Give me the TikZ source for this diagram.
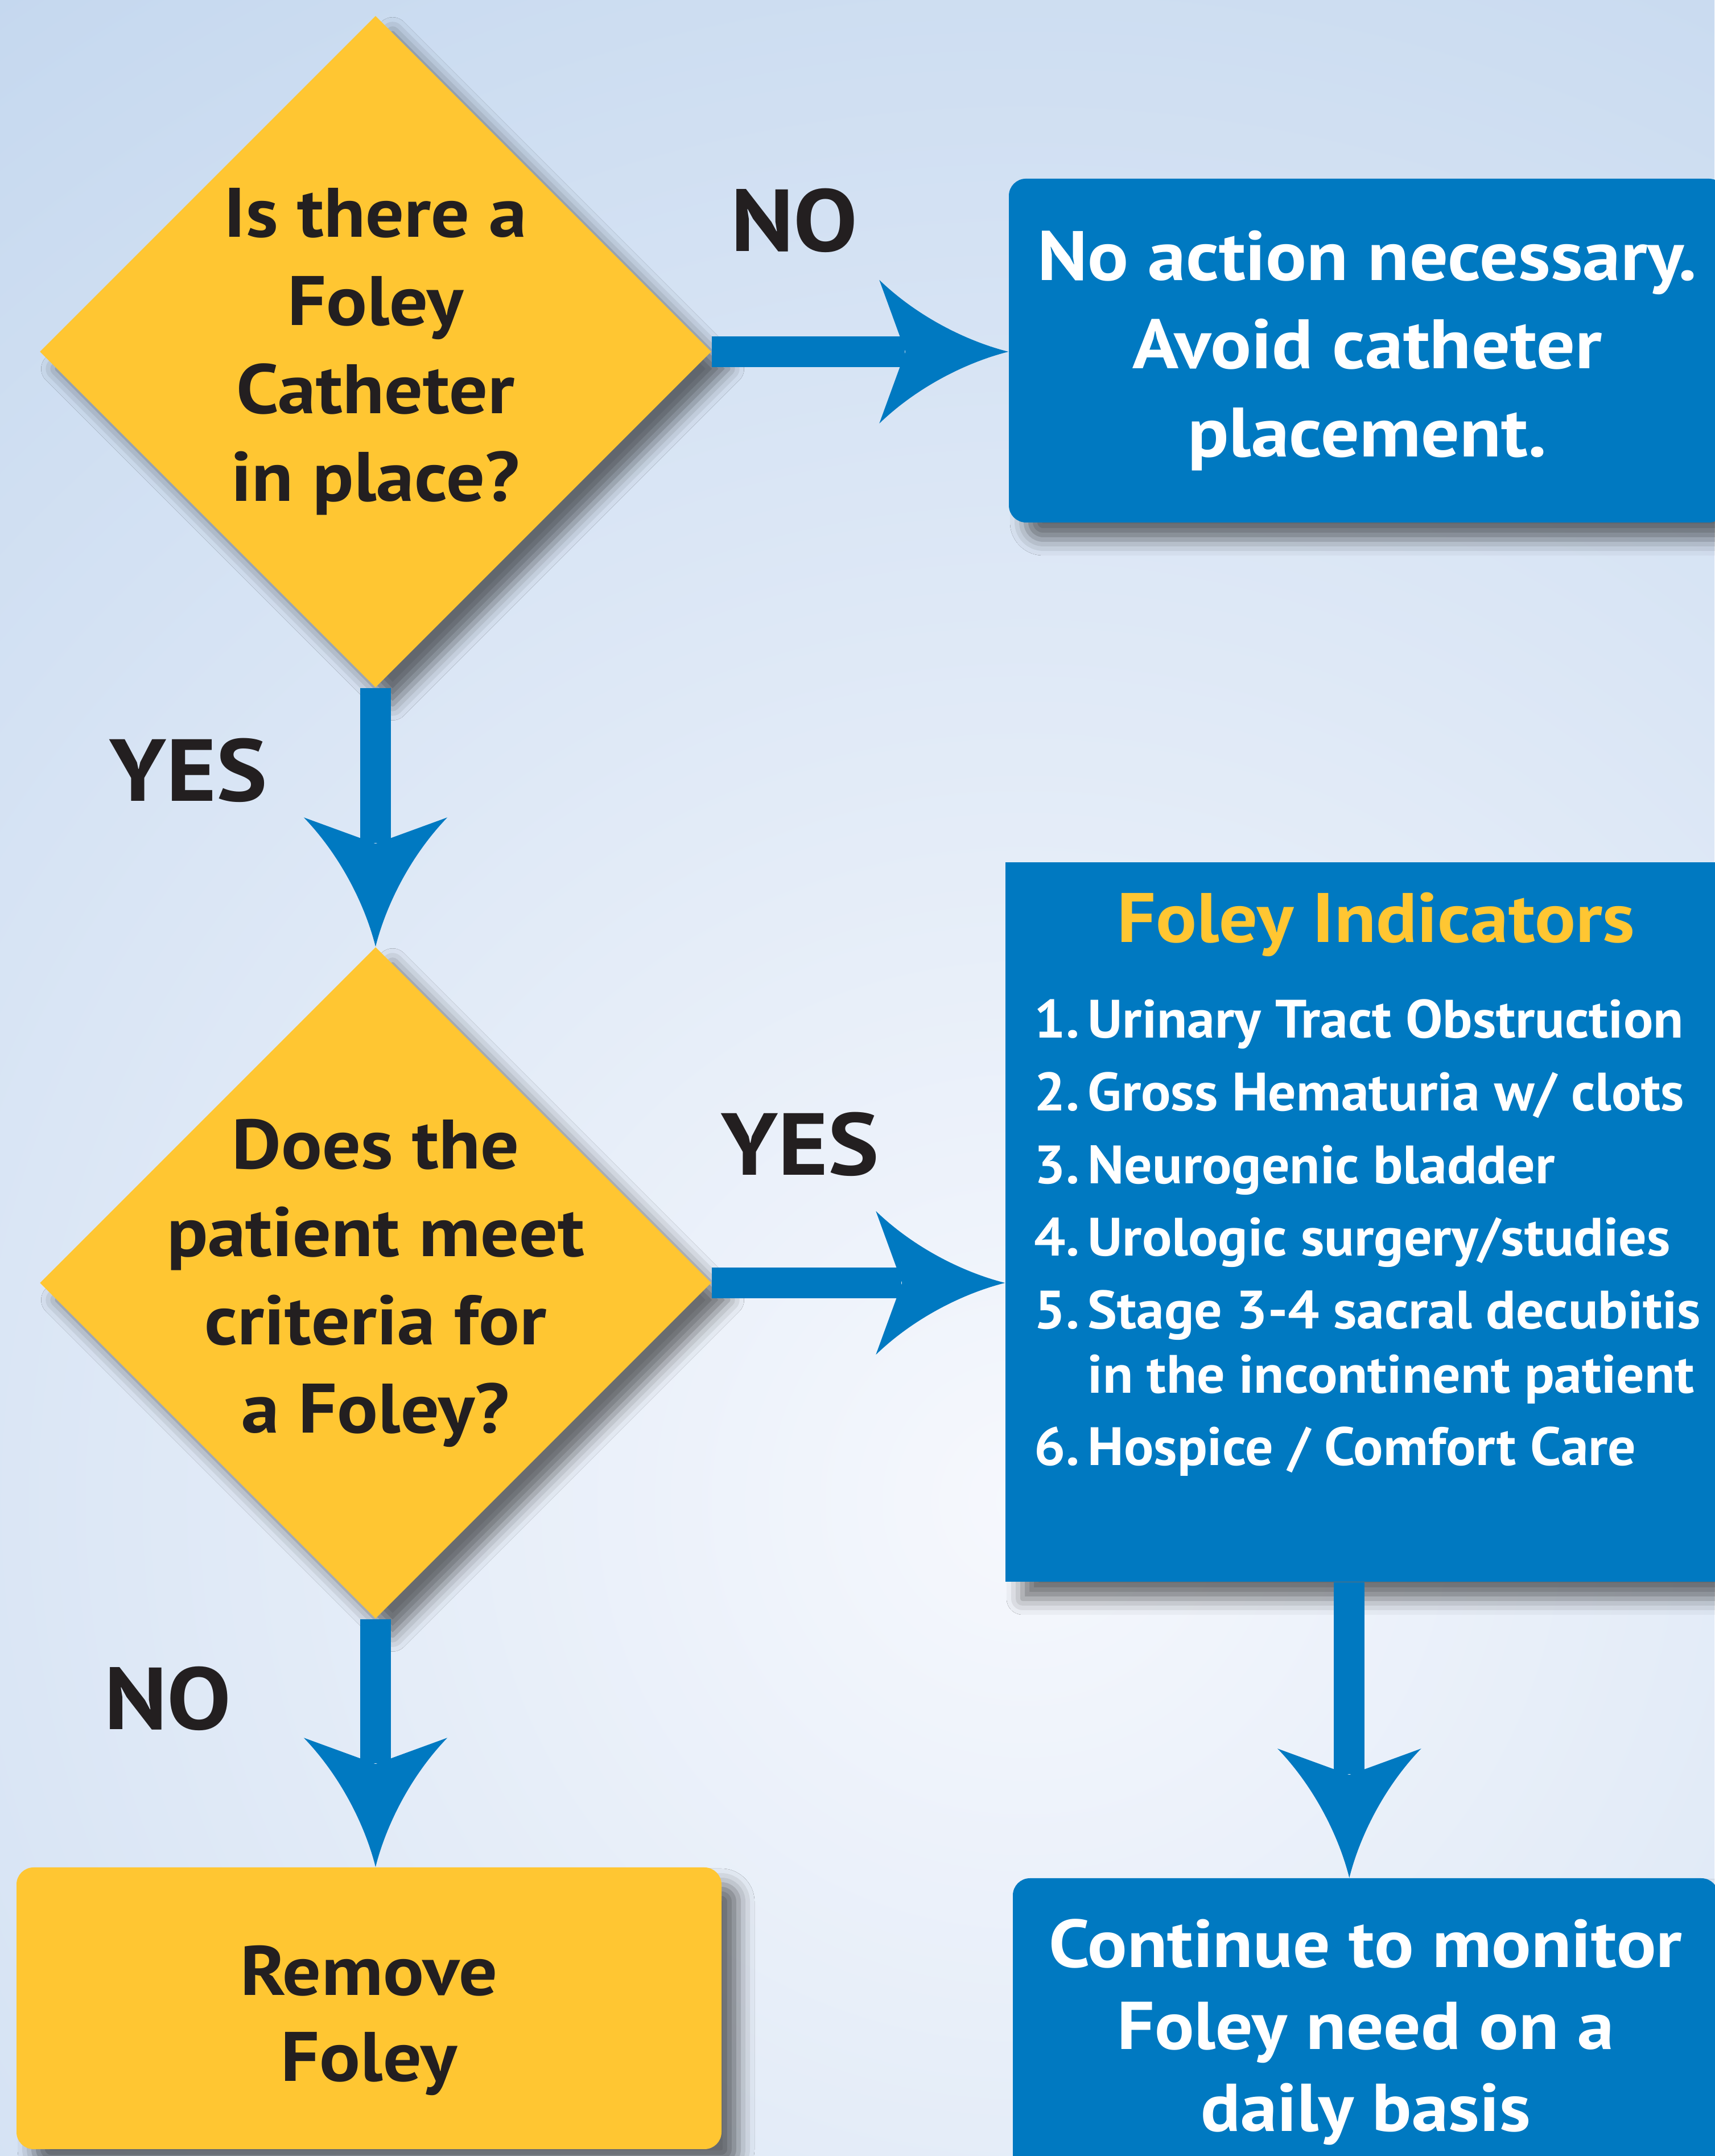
\documentclass[tikz,border=0pt]{standalone}
\usepackage{fontspec}
\setmainfont{PT Sans}[FakeStretch=1.09]
\newfontfamily\listfont{PT Sans}[FakeStretch=1.03]
\usetikzlibrary{shapes.geometric,shadows.blur,arrows.meta}

\definecolor{foleyblue}{RGB}{0,121,193}
\definecolor{foleyyellow}{RGB}{255,198,50}
\definecolor{inktext}{RGB}{35,31,32}
\definecolor{bgblue}{RGB}{194,214,238}
\definecolor{bglight}{RGB}{246,248,253}

% swept arrow head of the flow arrows
\pgfdeclarearrow{
  name=Swoop,
  setup code={
    \pgfarrowssettipend{0pt}
    \pgfarrowssetlineend{-52pt}
    \pgfarrowssetbackend{-64.6pt}
    \pgfarrowssetvisualbackend{-51.5pt}
    \pgfarrowshullpoint{0pt}{0pt}
    \pgfarrowshullpoint{-64.6pt}{35.9pt}
    \pgfarrowshullpoint{-64.6pt}{-35.9pt}
  },
  drawing code={
    \pgfpathmoveto{\pgfqpoint{0pt}{0pt}}
    \pgfpathcurveto{\pgfqpoint{-20pt}{5pt}}{\pgfqpoint{-45pt}{17pt}}{\pgfqpoint{-64.6pt}{35.9pt}}
    \pgfpathlineto{\pgfqpoint{-51.5pt}{0pt}}
    \pgfpathlineto{\pgfqpoint{-64.6pt}{-35.9pt}}
    \pgfpathcurveto{\pgfqpoint{-45pt}{-17pt}}{\pgfqpoint{-20pt}{-5pt}}{\pgfqpoint{0pt}{0pt}}
    \pgfpathclose
    \pgfusepathqfill
  }
}

\tikzset{
  softshadow/.style={blur shadow={shadow xshift=0.3cm,shadow yshift=-0.3cm,shadow blur radius=0.28cm,shadow opacity=55}},
  decision/.style={diamond,aspect=1,fill=foleyyellow,minimum width=11.8cm,minimum height=11.8cm,
    inner sep=-1cm,align=center,text=inktext,font=\bfseries\fontsize{35}{44}\selectfont,softshadow},
  bluebox/.style={rectangle,rounded corners=0.3cm,fill=foleyblue,text=white,align=center,
    font=\bfseries\fontsize{35}{44}\selectfont,softshadow},
  yellowbox/.style={rectangle,rounded corners=0.3cm,fill=foleyyellow,text=inktext,align=center,
    font=\bfseries\fontsize{35}{43}\selectfont,softshadow},
  answer/.style={text=inktext,inner sep=0pt,font=\bfseries\fontsize{44}{50}\selectfont},
  flow/.style={line width=0.54cm,color=foleyblue,-Swoop}
}

\begin{document}
\begin{tikzpicture}
	\useasboundingbox (0,0) rectangle (30.13,37.88);
	% background
	\fill[bgblue] (0,0) rectangle (30.13,37.88);
	\begin{scope}
		\clip (0,0) rectangle (30.13,37.88);
		\shade[inner color=bglight,outer color=bgblue] (18,11.5) circle (34cm);
	\end{scope}

	\node[decision] (catheter) at (6.60,31.70) {Is there a\\Foley\\Catheter\\in place?};
	\node[decision] (criteria) at (6.60,15.34) {Does the\\patient meet\\criteria for\\a Foley?};

	\node[bluebox,minimum width=12.6cm,minimum height=6.04cm] (noaction) at (24.03,31.72)
		{No action necessary.\\Avoid catheter\\placement.};
	\node[bluebox,rounded corners=0pt,minimum width=13cm,minimum height=12.64cm] (indicators) at (24.17,16.41) {};
	\node[text=foleyyellow,font=\bfseries\fontsize{35}{44}\selectfont] (indtitle) at (24.18,21.64) {Foley Indicators};
	\node[text=white,inner sep=0pt,anchor=north west,font=\listfont\bfseries\fontsize{27}{31.9}\selectfont] (indlist) at (18.17,20.44) {%
		\begin{tabular}{@{}p{0.94cm}@{}l@{}}
			1. & Urinary Tract Obstruction\\[4.5pt]
			2. & Gross Hematuria w/ clots\\[4.5pt]
			3. & Neurogenic bladder\\[4.5pt]
			4. & Urologic surgery/studies\\[4.5pt]
			5. & Stage 3-4 sacral decubitis\\
			   & in the incontinent patient\\[4.5pt]
			6. & Hospice / Comfort Care
		\end{tabular}};
	\node[bluebox,minimum width=12.4cm,minimum height=5.4cm,font=\bfseries\fontsize{33.8}{41}\selectfont] (monitor) at (24.0,2.18)
		{Continue to monitor\\Foley need on a\\daily basis};
	\node[yellowbox,minimum width=12.39cm,minimum height=4.95cm] (remove) at (6.485,2.595) {\rule{0pt}{1.3cm}Remove\\Foley};

	\node[answer] (nofirst) at (13.96,34.01) {NO};
	\node[answer] (yesfirst) at (3.31,24.35) {YES};
	\node[answer] (yessecond) at (14.06,17.78) {YES};
	\node[answer] (nosecond) at (2.95,8.04) {NO};

	\draw[flow] (catheter.east) -- (catheter.east -| noaction.west);
	\draw[flow] (catheter.south) -- (criteria.north);
	\draw[flow] (criteria.east) -- (criteria.east -| indicators.west);
	\draw[flow] ([xshift=6.05cm]indicators.south west) -- ([xshift=5.92cm]monitor.north west);
	\draw[flow] (criteria.south) -- (criteria.south |- remove.north);
\end{tikzpicture}
\end{document}
